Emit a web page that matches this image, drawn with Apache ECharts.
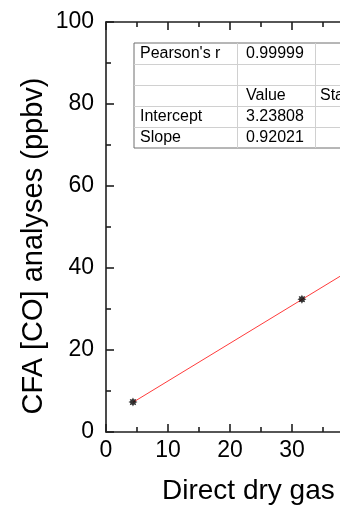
<!DOCTYPE html>
<html>
<head>
<meta charset="utf-8">
<script src="https://cdn.jsdelivr.net/npm/echarts@6/dist/echarts.min.js"></script>
<style>
  html, body { margin: 0; padding: 0; background: #fff; }
  #chart { width: 340px; height: 511px; }
</style>
</head>
<body>
<div id="chart"></div>
<script>
// Calibration points: direct dry gas CO vs CFA CO (ppbv)
const directCO = [4.35, 31.6];
const cfaCO = [7.3, 32.4];

// Linear fit line endpoints (intercept 3.23808, slope 0.92021)
const fitX = [4.35, 40];
const fitY = [7.24, 40.05];

// Fit statistics table
const tableCol1 = ["Pearson's r", "", "", "Intercept", "Slope"];
const tableCol2 = ["0.99999", "", "Value", "3.23808", "0.92021"];
const tableCol3 = ["", "", "Standard Error", "", ""];

const FONT = '"Liberation Sans", Arial, sans-serif';
const AXIS_COLOR = '#1f1f1f';

const chart = echarts.init(document.getElementById('chart'), null, { renderer: 'canvas' });

// Table layout
const tX = [134, 237, 315, 430];
const tTop = 43, rowH = 21;
const nRows = tableCol1.length;
const tBottom = tTop + rowH * nRows;

const tableGraphics = [];
tableGraphics.push({
  type: 'rect', shape: { x: tX[0], y: tTop, width: tX[3] - tX[0], height: tBottom - tTop },
  style: { fill: '#fff', stroke: '#6e6e6e', lineWidth: 1 }, z: 10
});
for (let r = 1; r < nRows; r++) {
  const y = tTop + r * rowH + 0.5;
  tableGraphics.push({ type: 'line', shape: { x1: tX[0], y1: y, x2: tX[3], y2: y },
    style: { stroke: '#d0d0d0', lineWidth: 1 }, z: 11 });
}
[tX[1], tX[2]].forEach(x => {
  tableGraphics.push({ type: 'line', shape: { x1: x + 0.5, y1: tTop, x2: x + 0.5, y2: tBottom },
    style: { stroke: '#d0d0d0', lineWidth: 1 }, z: 11 });
});
const cols = [tableCol1, tableCol2, tableCol3];
const colTextX = [tX[0] + 6, tX[1] + 9, tX[2] + 5];
cols.forEach((col, c) => {
  col.forEach((txt, r) => {
    if (!txt) return;
    tableGraphics.push({
      type: 'text', x: colTextX[c], y: tTop + r * rowH + rowH / 2 + 0.5,
      style: { text: txt, fill: '#000', font: '16px ' + FONT, textVerticalAlign: 'middle', textAlign: 'left' },
      z: 12
    });
  });
});

const tickLabelStyle = { color: '#000', fontSize: 23, fontFamily: FONT };

const option = {
  backgroundColor: '#fff',
  animation: false,
  grid: { left: 106, top: 22, right: -386, bottom: 79, outerBoundsMode: 'none', containLabel: false },
  xAxis: [{
    type: 'value', min: 0, max: 100, interval: 10, position: 'bottom',
    name: 'Direct dry gas', nameLocation: 'start', nameGap: -56, nameMoveOverlap: false,
    nameTextStyle: { color: '#000', fontSize: 28, fontFamily: FONT, align: 'left', verticalAlign: 'top', padding: [45, 0, 0, 0] },
    axisLine: { show: true, onZero: false, lineStyle: { color: AXIS_COLOR, width: 1.6 } },
    axisTick: { show: true, inside: true, length: 8, lineStyle: { color: AXIS_COLOR, width: 1.6 } },
    minorTick: { show: true, splitNumber: 2, length: 5, lineStyle: { color: AXIS_COLOR, width: 1.6 } },
    axisLabel: Object.assign({ margin: 7 }, tickLabelStyle),
    splitLine: { show: false }
  }, {
    type: 'value', min: 0, max: 100, interval: 10, position: 'top',
    axisLine: { show: true, onZero: false, lineStyle: { color: AXIS_COLOR, width: 1.6 } },
    axisTick: { show: true, inside: true, length: 8, lineStyle: { color: AXIS_COLOR, width: 1.6 } },
    minorTick: { show: true, splitNumber: 2, length: 5, lineStyle: { color: AXIS_COLOR, width: 1.6 } },
    axisLabel: { show: false },
    splitLine: { show: false }
  }],
  yAxis: [{
    type: 'value', min: 0, max: 100, interval: 20, position: 'left',
    name: 'CFA [CO] analyses (ppbv)', nameLocation: 'middle', nameGap: 58, nameRotate: 90, nameMoveOverlap: false,
    nameTextStyle: { color: '#000', fontSize: 29, fontFamily: FONT, padding: [0, 38, 0, 0] },
    axisLine: { show: true, onZero: false, lineStyle: { color: AXIS_COLOR, width: 1.6 } },
    axisTick: { show: true, inside: true, length: 8, lineStyle: { color: AXIS_COLOR, width: 1.6 } },
    minorTick: { show: true, splitNumber: 2, length: 5, lineStyle: { color: AXIS_COLOR, width: 1.6 } },
    axisLabel: Object.assign({ margin: 12 }, tickLabelStyle),
    splitLine: { show: false }
  }],
  series: [{
    type: 'line', name: 'Linear Fit',
    data: fitX.map((x, i) => [x, fitY[i]]),
    showSymbol: false, symbol: 'none',
    lineStyle: { color: '#ff3b3b', width: 1 }, z: 2, silent: true
  }, {
    type: 'scatter', name: 'CO',
    data: directCO.map((x, i) => [x, cfaCO[i]]),
    symbol: 'path://M10,5 L7.77,3.85 L8.54,1.46 L6.15,2.23 L5,0 L3.85,2.23 L1.46,1.46 L2.23,3.85 L0,5 L2.23,6.15 L1.46,8.54 L3.85,7.77 L5,10 L6.15,7.77 L8.54,8.54 L7.77,6.15 Z',
    symbolSize: 9,
    itemStyle: { color: '#000' }, z: 3
  }],
  graphic: tableGraphics
};
chart.setOption(option);
</script>
</body>
</html>
